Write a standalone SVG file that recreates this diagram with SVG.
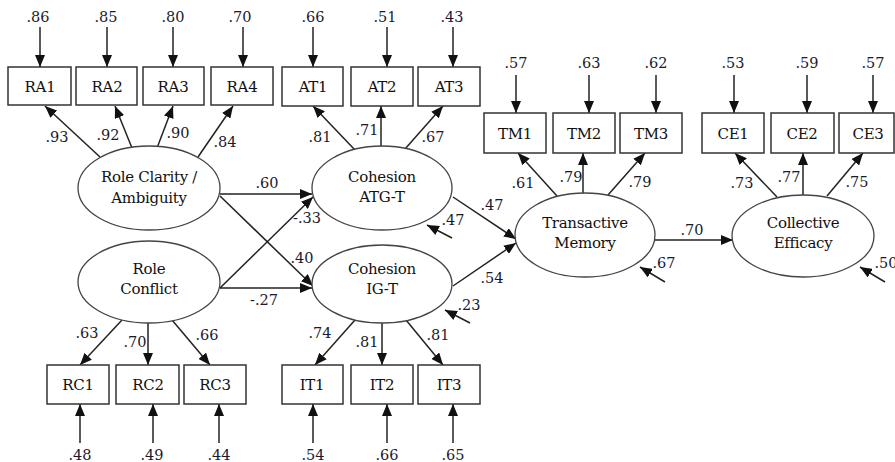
<svg xmlns="http://www.w3.org/2000/svg" width="895" height="462" viewBox="0 0 895 462" font-family="'DejaVu Serif', serif">
<defs>
<marker id="ah" viewBox="0 0 12 10" refX="12" refY="5" markerWidth="12" markerHeight="10" markerUnits="userSpaceOnUse" orient="auto"><path d="M0,0 L12,5 L0,10 z" fill="#111"/></marker>
<style>
.box{fill:#fff;stroke:#333;stroke-width:1.5}
.ell{fill:#fff;stroke:#444;stroke-width:1.3}
text{font-family:'DejaVu Serif',serif}
.t{font-size:15px;fill:#111;text-anchor:middle;letter-spacing:-0.3px}
.n{font-size:14.5px;fill:#1a1a2e;text-anchor:middle}
.c line{stroke:#222;stroke-width:1.5;marker-end:url(#ah)}
</style>
</defs>
<rect width="895" height="462" fill="#fff"/>

<!-- Connectors -->
<g id="connectors" class="c">
<line x1="40" y1="27" x2="40" y2="67"/>
<line x1="107" y1="27" x2="107" y2="67"/>
<line x1="173" y1="27" x2="173" y2="67"/>
<line x1="243" y1="27" x2="243" y2="67"/>
<line x1="313" y1="27" x2="313" y2="67"/>
<line x1="387" y1="27" x2="387" y2="67"/>
<line x1="453" y1="27" x2="453" y2="67"/>
<line x1="516" y1="75" x2="516" y2="113"/>
<line x1="589" y1="75" x2="589" y2="113"/>
<line x1="656" y1="75" x2="656" y2="113"/>
<line x1="734" y1="75" x2="734" y2="113"/>
<line x1="807" y1="75" x2="807" y2="113"/>
<line x1="873" y1="75" x2="873" y2="113"/>
<line x1="80" y1="443" x2="80" y2="404"/>
<line x1="153" y1="443" x2="153" y2="404"/>
<line x1="219" y1="443" x2="219" y2="404"/>
<line x1="313" y1="443" x2="313" y2="404"/>
<line x1="387" y1="443" x2="387" y2="404"/>
<line x1="453" y1="443" x2="453" y2="404"/>
<line x1="100" y1="157" x2="45" y2="106"/>
<line x1="132" y1="148" x2="115" y2="106"/>
<line x1="157" y1="148" x2="173" y2="106"/>
<line x1="198" y1="157" x2="233" y2="106"/>
<line x1="355" y1="150" x2="313" y2="106"/>
<line x1="381" y1="147" x2="381" y2="106"/>
<line x1="405" y1="149" x2="443" y2="106"/>
<line x1="557" y1="196" x2="518" y2="153"/>
<line x1="583" y1="193" x2="583" y2="153"/>
<line x1="608" y1="195" x2="645" y2="153"/>
<line x1="777" y1="197" x2="735" y2="153"/>
<line x1="803" y1="195" x2="803" y2="153"/>
<line x1="827" y1="196" x2="863" y2="153"/>
<line x1="122" y1="320" x2="80" y2="365"/>
<line x1="148" y1="323" x2="148" y2="365"/>
<line x1="172" y1="320" x2="210" y2="365"/>
<line x1="355" y1="320" x2="315" y2="365"/>
<line x1="382" y1="323" x2="382" y2="365"/>
<line x1="406" y1="320" x2="443" y2="365"/>
<line x1="220" y1="194" x2="312" y2="194"/>
<line x1="220" y1="196" x2="313" y2="286"/>
<line x1="220" y1="288" x2="313" y2="197"/>
<line x1="220" y1="288" x2="312" y2="288"/>
<line x1="453" y1="197" x2="516" y2="239"/>
<line x1="453" y1="286" x2="516" y2="243"/>
<line x1="655" y1="240" x2="733" y2="240"/>
<line x1="452" y1="238" x2="427" y2="225"/>
<line x1="470" y1="323" x2="445" y2="310"/>
<line x1="665" y1="282" x2="640" y2="267"/>
<line x1="885" y1="282" x2="860" y2="267"/>
</g>

<!-- Observed indicators -->
<g id="RA1"><rect class="box" x="8" y="67" width="63" height="38"/><text class="t" x="40" y="92">RA1</text></g>
<g id="RA2"><rect class="box" x="76" y="67" width="61" height="38"/><text class="t" x="107" y="92">RA2</text></g>
<g id="RA3"><rect class="box" x="143" y="67" width="61" height="38"/><text class="t" x="173" y="92">RA3</text></g>
<g id="RA4"><rect class="box" x="211" y="67" width="62" height="38"/><text class="t" x="242" y="92">RA4</text></g>
<g id="AT1"><rect class="box" x="282" y="67" width="61" height="39"/><text class="t" x="313" y="92">AT1</text></g>
<g id="AT2"><rect class="box" x="351" y="67" width="62" height="39"/><text class="t" x="382" y="92">AT2</text></g>
<g id="AT3"><rect class="box" x="418" y="67" width="62" height="39"/><text class="t" x="449" y="92">AT3</text></g>
<g id="TM1"><rect class="box" x="484" y="113" width="62" height="40"/><text class="t" x="515" y="139">TM1</text></g>
<g id="TM2"><rect class="box" x="553" y="113" width="62" height="40"/><text class="t" x="584" y="139">TM2</text></g>
<g id="TM3"><rect class="box" x="620" y="113" width="62" height="40"/><text class="t" x="651" y="139">TM3</text></g>
<g id="CE1"><rect class="box" x="702" y="113" width="62" height="40"/><text class="t" x="733" y="139">CE1</text></g>
<g id="CE2"><rect class="box" x="771" y="113" width="63" height="40"/><text class="t" x="802" y="139">CE2</text></g>
<g id="CE3"><rect class="box" x="839" y="113" width="55" height="40"/><text class="t" x="868" y="139">CE3</text></g>
<g id="RC1"><rect class="box" x="47" y="365" width="62" height="39"/><text class="t" x="78" y="390">RC1</text></g>
<g id="RC2"><rect class="box" x="116" y="365" width="63" height="39"/><text class="t" x="148" y="390">RC2</text></g>
<g id="RC3"><rect class="box" x="184" y="365" width="62" height="39"/><text class="t" x="215" y="390">RC3</text></g>
<g id="IT1"><rect class="box" x="282" y="365" width="61" height="39"/><text class="t" x="312" y="390">IT1</text></g>
<g id="IT2"><rect class="box" x="351" y="365" width="62" height="39"/><text class="t" x="382" y="390">IT2</text></g>
<g id="IT3"><rect class="box" x="418" y="365" width="62" height="39"/><text class="t" x="449" y="390">IT3</text></g>

<!-- Latent variables -->
<g id="RoleClarity"><ellipse class="ell" cx="149" cy="188" rx="71" ry="42"/><text class="t" x="149" y="182">Role Clarity /</text><text class="t" x="149" y="203">Ambiguity</text></g>
<g id="RoleConflict"><ellipse class="ell" cx="149" cy="282" rx="71" ry="41"/><text class="t" x="149" y="274">Role</text><text class="t" x="149" y="294">Conflict</text></g>
<g id="CohesionATG"><ellipse class="ell" cx="382" cy="188" rx="70" ry="42"/><text class="t" x="382" y="182">Cohesion</text><text class="t" x="382" y="202">ATG-T</text></g>
<g id="CohesionIG"><ellipse class="ell" cx="382" cy="284" rx="70" ry="39"/><text class="t" x="382" y="274">Cohesion</text><text class="t" x="382" y="294">IG-T</text></g>
<g id="TransactiveMemory"><ellipse class="ell" cx="585" cy="235" rx="70" ry="42"/><text class="t" x="585" y="228">Transactive</text><text class="t" x="585" y="248">Memory</text></g>
<g id="CollectiveEfficacy"><ellipse class="ell" cx="803" cy="236" rx="71" ry="41"/><text class="t" x="803" y="228">Collective</text><text class="t" x="803" y="248">Efficacy</text></g>

<!-- Numbers -->
<g id="labels">
<text class="n" x="38" y="22">.86</text>
<text class="n" x="106" y="22">.85</text>
<text class="n" x="173" y="22">.80</text>
<text class="n" x="240" y="22">.70</text>
<text class="n" x="313" y="22">.66</text>
<text class="n" x="385" y="22">.51</text>
<text class="n" x="452" y="22">.43</text>
<text class="n" x="516" y="68">.57</text>
<text class="n" x="589" y="68">.63</text>
<text class="n" x="656" y="68">.62</text>
<text class="n" x="733" y="68">.53</text>
<text class="n" x="807" y="68">.59</text>
<text class="n" x="873" y="68">.57</text>
<text class="n" x="80" y="460">.48</text>
<text class="n" x="152" y="460">.49</text>
<text class="n" x="219" y="460">.44</text>
<text class="n" x="313" y="460">.54</text>
<text class="n" x="387" y="460">.66</text>
<text class="n" x="453" y="460">.65</text>
<text class="n" x="57" y="142">.93</text>
<text class="n" x="108" y="140">.92</text>
<text class="n" x="178" y="138">.90</text>
<text class="n" x="225" y="147">.84</text>
<text class="n" x="320" y="142">.81</text>
<text class="n" x="367" y="135">.71</text>
<text class="n" x="433" y="142">.67</text>
<text class="n" x="523" y="188">.61</text>
<text class="n" x="571" y="182">.79</text>
<text class="n" x="640" y="187">.79</text>
<text class="n" x="742" y="188">.73</text>
<text class="n" x="789" y="182">.77</text>
<text class="n" x="857" y="187">.75</text>
<text class="n" x="87" y="338">.63</text>
<text class="n" x="135" y="347">.70</text>
<text class="n" x="207" y="340">.66</text>
<text class="n" x="320" y="338">.74</text>
<text class="n" x="367" y="347">.81</text>
<text class="n" x="438" y="340">.81</text>
<text class="n" x="267" y="188">.60</text>
<text class="n" x="307" y="223">-.33</text>
<text class="n" x="302" y="263">.40</text>
<text class="n" x="264" y="305">-.27</text>
<text class="n" x="492" y="210">.47</text>
<text class="n" x="492" y="283">.54</text>
<text class="n" x="692" y="235">.70</text>
<text class="n" x="453" y="225">.47</text>
<text class="n" x="469" y="310">.23</text>
<text class="n" x="664" y="268">.67</text>
<text class="n" x="886" y="268">.50</text>
</g>
</svg>
